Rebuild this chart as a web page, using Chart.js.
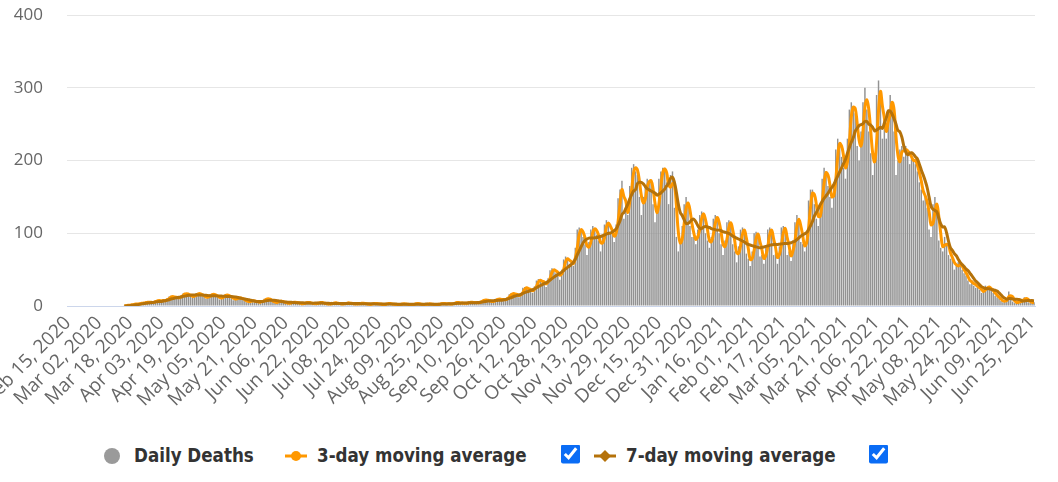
<!DOCTYPE html>
<html>
<head>
<meta charset="UTF-8">
<title>Daily Deaths</title>
<script src="https://cdn.jsdelivr.net/npm/chart.js@4.4.0/dist/chart.umd.min.js"></script>
<style>
* { margin: 0; padding: 0; }
body { width: 1058px; height: 482px; background: #fff; overflow: hidden; }
#wrap { position: relative; width: 1058px; height: 440px; }
#legend { position: relative; width: 1058px; height: 42px; font-family: "DejaVu Sans Condensed", "DejaVu Sans", sans-serif; font-stretch: condensed; font-weight: bold; font-size: 18.6px; color: #333; }
#legend .item { position: absolute; top: 16px; transform: translateY(-50%); white-space: nowrap; line-height: 20px; }
#legend svg { display: block; }
#legend input { width: 19px; height: 19px; accent-color: #0a6cf5; }
</style>
</head>
<body>
<div id="wrap"><canvas id="chart" width="1058" height="440"></canvas></div>
<div id="legend">
  <div class="item" style="left:104px"><svg width="16" height="16"><circle cx="8" cy="8" r="8" fill="#9a9a9a"/></svg></div>
  <div class="item" style="left:134px">Daily Deaths</div>
  <div class="item" style="left:285px"><svg width="22" height="12"><line x1="0" y1="6" x2="22" y2="6" stroke="#ff9800" stroke-width="3"/><circle cx="11" cy="6" r="5" fill="#ff9800"/></svg></div>
  <div class="item" style="left:317px">3-day moving average</div>
  <div class="item" style="left:561px"><input type="checkbox" id="cb3" checked></div>
  <div class="item" style="left:594px"><svg width="22" height="14"><line x1="0" y1="7" x2="22" y2="7" stroke="#b5720a" stroke-width="3"/><polygon points="11,1 17,7 11,13 5,7" fill="#b5720a"/></svg></div>
  <div class="item" style="left:626px">7-day moving average</div>
  <div class="item" style="left:869px"><input type="checkbox" id="cb7" checked></div>
</div>
<script>
// first day on the axis
var startDate = Date.UTC(2020, 1, 15);
var monthNames = ["Jan","Feb","Mar","Apr","May","Jun","Jul","Aug","Sep","Oct","Nov","Dec"];

// labels shown on the x axis
var tickLabels = ["Feb 15, 2020","Mar 02, 2020","Mar 18, 2020","Apr 03, 2020","Apr 19, 2020",
  "May 05, 2020","May 21, 2020","Jun 06, 2020","Jun 22, 2020","Jul 08, 2020","Jul 24, 2020",
  "Aug 09, 2020","Aug 25, 2020","Sep 10, 2020","Sep 26, 2020","Oct 12, 2020","Oct 28, 2020",
  "Nov 13, 2020","Nov 29, 2020","Dec 15, 2020","Dec 31, 2020","Jan 16, 2021","Feb 01, 2021",
  "Feb 17, 2021","Mar 05, 2021","Mar 21, 2021","Apr 06, 2021","Apr 22, 2021","May 08, 2021",
  "May 24, 2021","Jun 09, 2021","Jun 25, 2021"];

var yTicks = [0, 100, 200, 300, 400];

// daily deaths, one row per week (Sat..Fri), from Feb 15 2020
var dailyDeaths = [
  0,0,0,0,0,0,0,
  0,0,0,0,0,0,0,
  0,0,0,0,0,0,0,
  0,0,0,0,0,0,0,
  0,1,0,2,1,2,3,
  3,2,4,5,4,5,6,
  5,4,6,8,7,8,6,
  9,7,10,13,14,12,11,
  13,10,14,17,18,16,15,
  14,11,15,18,17,16,14,
  13,10,13,16,17,15,14,
  12,9,12,15,16,14,13,
  11,8,10,12,11,10,9,
  7,5,6,7,8,6,5,
  6,5,7,10,11,9,8,
  6,4,5,7,7,6,5,
  4,3,4,6,5,5,4,
  4,2,4,5,5,4,4,
  3,3,4,5,5,4,3,
  3,2,3,5,4,4,3,
  3,2,4,4,5,3,3,
  3,2,3,4,4,3,3,
  2,2,3,4,3,3,3,
  2,1,3,4,3,3,2,
  2,1,2,3,3,3,2,
  2,1,2,3,4,3,2,
  2,1,3,3,3,2,2,
  2,2,3,4,3,3,3,
  3,2,4,5,5,4,4,
  4,3,4,6,5,5,4,
  5,4,6,8,9,8,7,
  7,5,7,10,10,9,8,
  10,8,12,16,18,17,15,
  16,12,18,25,26,24,21,
  24,18,27,35,37,34,31,
  34,26,38,49,52,48,45,
  46,36,50,64,68,63,58,
  62,55,80,105,108,102,95,
  85,70,88,105,110,103,98,
  90,75,95,112,118,112,100,
  100,88,112,148,160,172,120,
  140,125,165,190,195,185,180,
  150,125,150,165,175,172,170,
  140,115,130,175,185,190,190,
  170,140,180,185,135,95,75,
  90,110,140,150,135,110,95,
  95,85,105,125,130,125,100,
  90,80,95,120,125,120,100,
  85,70,90,115,118,110,85,
  75,60,82,105,108,100,72,
  65,55,75,100,102,95,68,
  70,58,80,105,108,100,70,
  72,58,82,108,110,102,70,
  75,62,90,115,125,118,88,
  85,75,100,145,160,160,140,
  120,110,140,175,190,185,165,
  150,135,170,215,230,225,205,
  190,175,230,270,280,270,265,
  220,200,240,280,300,270,240,
  210,180,205,290,310,285,230,
  260,230,270,290,280,240,180,
  200,215,220,205,220,215,195,
  205,200,195,185,170,160,145,
  150,135,105,95,140,150,130,
  90,80,75,95,85,70,65,
  65,50,55,60,55,50,45,
  42,35,30,35,28,25,28,
  22,18,20,28,26,24,22,
  18,14,12,10,7,5,8,
  10,20,12,6,4,5,6,
  6,9,12,10,5,4,6,
  5
];

function pad(n){ return n < 10 ? "0" + n : "" + n; }

var labels = [];
for (var i = 0; i < dailyDeaths.length; i++) {
  var d = new Date(startDate + i * 86400000);
  labels.push(monthNames[d.getUTCMonth()] + " " + pad(d.getUTCDate()) + ", " + d.getUTCFullYear());
}

// trailing moving average, starting at the first reported death
var firstDay = dailyDeaths.findIndex(v => v > 0);
function movingAverage(n){
  return dailyDeaths.map((v, i) => {
    if (i < firstDay) return null;
    var from = Math.max(0, i - n + 1), s = 0;
    for (var j = from; j <= i; j++) s += dailyDeaths[j];
    return Math.round(s / (i - from + 1) * 10) / 10;
  });
}
var avg3 = movingAverage(3);
var avg7 = movingAverage(7);

var chart = new Chart(document.getElementById("chart").getContext("2d"), {
  type: "bar",
  data: {
    labels: labels,
    datasets: [
      { type: "bar", label: "Daily Deaths", data: dailyDeaths, backgroundColor: "#929292",
        barPercentage: 0.75, categoryPercentage: 1, order: 2 },
      { type: "line", label: "3-day moving average", data: avg3, borderColor: "#ff9800",
        borderWidth: 3, pointRadius: 0, tension: 0.4, order: 1 },
      { type: "line", label: "7-day moving average", data: avg7, borderColor: "#b5720a",
        borderWidth: 3, pointRadius: 0, tension: 0.4, order: 0 }
    ]
  },
  options: {
    responsive: false,
    animation: false,
    layout: { padding: { top: 15, right: 23, left: 0, bottom: 0 } },
    plugins: { legend: { display: false }, tooltip: { enabled: false } },
    scales: {
      x: {
        grid: { display: false, drawTicks: false },
        border: { display: true, color: "#ccd6eb", width: 1 },
        ticks: {
          autoSkip: false, minRotation: 45, maxRotation: 45, padding: 6,
          color: "#666", font: { family: "Open Sans", size: 19 },
          callback: function(v){ var l = this.getLabelForValue(v); return tickLabels.indexOf(l) >= 0 ? l : ""; }
        },
        afterFit: function(s){ s.paddingLeft = 0; s.paddingRight = 0; s.height = 134; }
      },
      y: {
        min: 0, max: 400,
        afterBuildTicks: function(s){ s.ticks = yTicks.map(v => ({ value: v })); },
        ticks: { padding: 24, color: "#666", font: { family: "Open Sans", size: 17 } },
        grid: { drawTicks: false, color: c => c.tick && c.tick.value === 0 ? "#ccd6eb" : "#e6e6e6" },
        border: { display: false },
        afterFit: function(s){ s.width = 67; s.paddingTop = 0; }
      }
    }
  }
});

document.getElementById("cb3").onchange = function(){ chart.setDatasetVisibility(1, this.checked); chart.update(); };
document.getElementById("cb7").onchange = function(){ chart.setDatasetVisibility(2, this.checked); chart.update(); };
</script>
</body>
</html>
